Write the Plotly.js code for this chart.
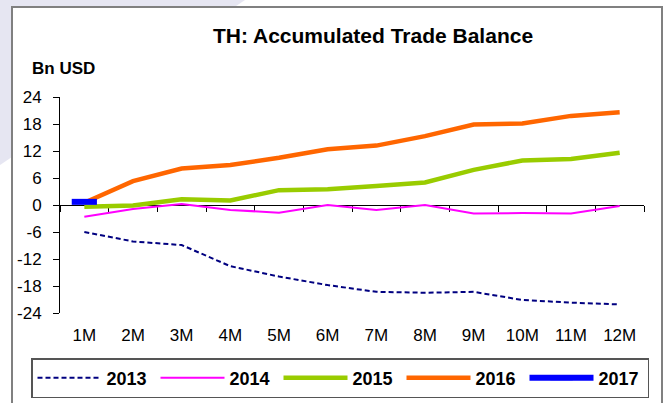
<!DOCTYPE html>
<html>
<head>
<meta charset="utf-8">
<script src="https://cdn.plot.ly/plotly-3.0.1.min.js"></script>
<style>html,body{margin:0;padding:0;background:#fff;}#chart{width:667px;height:403px;}</style>
</head>
<body>
<div id="chart"></div>
<script>
const months = ['1M','2M','3M','4M','5M','6M','7M','8M','9M','10M','11M','12M'];
const y2013 = [-6.0, -8.1, -8.9, -13.6, -15.9, -17.8, -19.3, -19.5, -19.3, -21.1, -21.7, -22.1];
const y2014 = [-2.6, -0.9, 0.2, -1.1, -1.7, 0.0, -1.1, 0.0, -1.9, -1.8, -1.9, -0.2];
const y2015 = [-0.4, -0.1, 1.3, 1.0, 3.3, 3.5, 4.2, 5.0, 7.8, 9.9, 10.2, 11.6];
const y2016 = [0.5, 5.3, 8.1, 8.9, 10.5, 12.4, 13.2, 15.3, 17.9, 18.1, 19.8, 20.6];
const months2017 = ['1M'];
const y2017 = [0.7];
const yTickVals = [24, 18, 12, 6, 0, -6, -12, -18, -24];
const yTickText = ['24', '18', '12', '6', '0', '-6', '-12', '-18', '-24'];

const W = 667, H = 403;
const M = {l: 60, r: 23, t: 97, b: 90, autoexpand: false};
const PW = W - M.l - M.r, PH = H - M.t - M.b;
const px = v => (v - M.l) / PW;
const py = v => (H - M.b - v) / PH;

const FONT = 'Arial, "Liberation Sans", sans-serif';

const traces = [
  {name: '2013', x: months, y: y2013, type: 'scatter', mode: 'lines', xaxis: 'x2', yaxis: 'y',
   line: {color: '#000080', width: 2, dash: '5px,3px'}},
  {name: '2014', x: months, y: y2014, type: 'scatter', mode: 'lines',
   line: {color: '#FF00FF', width: 2}},
  {name: '2015', x: months, y: y2015, type: 'scatter', mode: 'lines',
   line: {color: '#99CC00', width: 4.5}},
  {name: '2016', x: months, y: y2016, type: 'scatter', mode: 'lines',
   line: {color: '#FF6600', width: 4.5}},
  {name: '2017', x: months2017, y: y2017, type: 'scatter', mode: 'lines+markers',
   line: {color: '#0000FF', width: 6},
   marker: {symbol: 'line-ew', size: 18, color: '#0000FF', line: {color: '#0000FF', width: 6}}}
];

const xr = [-0.5, months.length - 0.5];

const layout = {
  width: W, height: H,
  margin: M,
  paper_bgcolor: '#ffffff',
  plot_bgcolor: 'rgba(0,0,0,0)',
  font: {family: FONT, color: '#000'},
  showlegend: true,
  title: {text: '<b>TH: Accumulated Trade Balance</b>', font: {size: 21, family: FONT, color: '#000'},
          x: 373 / W, xref: 'container', xanchor: 'center', y: 1 - 36 / H, yref: 'container', yanchor: 'middle'},
  xaxis: {type: 'category', range: xr, showline: false, showgrid: false, zeroline: false, ticks: '',
          tickfont: {size: 17, family: FONT, color: '#000'}, ticklabelstandoff: 10, fixedrange: true},
  xaxis2: {type: 'category', range: xr, overlaying: 'x', anchor: 'free', position: 0.5,
           showline: true, linecolor: '#000', linewidth: 1, showgrid: false, zeroline: false,
           ticks: 'outside', tickson: 'boundaries', ticklen: 6, tickcolor: '#000', tickwidth: 1,
           showticklabels: false, layer: 'below traces'},
  yaxis: {range: [-24, 24], tickvals: yTickVals, ticktext: yTickText, showline: true, linecolor: '#000', linewidth: 1,
          ticks: 'outside', ticklen: 6, tickcolor: '#000', showgrid: false, zeroline: false,
          tickfont: {size: 17, family: FONT, color: '#000'}, ticklabelstandoff: 8},
  legend: {orientation: 'h', xref: 'paper', yref: 'paper', x: px(31), y: py(378),
           xanchor: 'left', yanchor: 'middle', bordercolor: '#555', borderwidth: 1.5, bgcolor: '#fff',
           font: {size: 18, family: FONT, color: '#000', weight: 'bold'}, itemwidth: 64, entrywidth: 44,
           tracegroupgap: 0},
  annotations: [
    {text: '<b>Bn USD</b>', xref: 'paper', yref: 'paper', x: px(30), y: py(68), xanchor: 'left', yanchor: 'middle',
     showarrow: false, font: {size: 17, family: FONT, color: '#000'}}
  ],
  shapes: [
    {type: 'path', xref: 'paper', yref: 'paper', layer: 'below',
     path: 'M' + px(0) + ',' + py(0) + ' L' + px(245) + ',' + py(0) + ' L' + px(0) + ',' + py(165) + ' Z',
     fillcolor: '#e6e6f2', line: {width: 0}},
    {type: 'rect', xref: 'paper', yref: 'paper', layer: 'below',
     x0: px(12), x1: px(662), y0: py(7), y1: py(412),
     fillcolor: '#ffffff', line: {color: '#808080', width: 2}}
  ]
};

Plotly.newPlot('chart', traces, layout, {displayModeBar: false, staticPlot: true});
</script>
</body>
</html>
